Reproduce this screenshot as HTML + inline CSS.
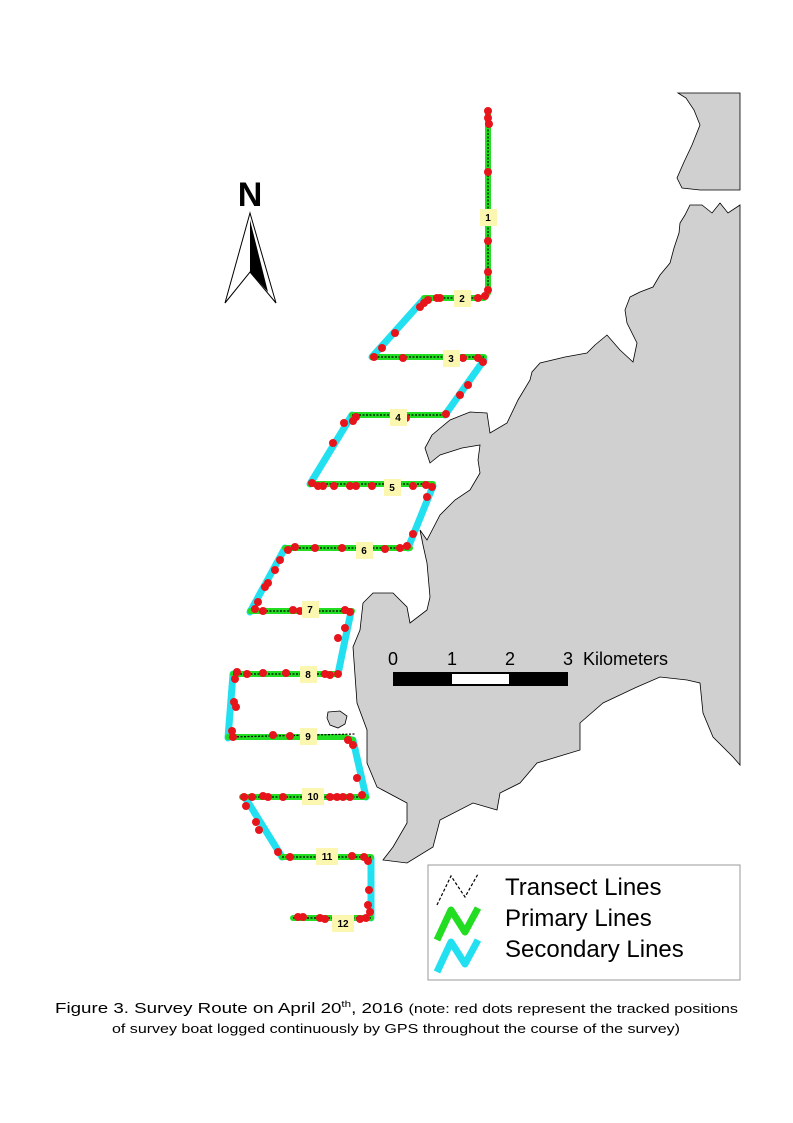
<!DOCTYPE html>
<html><head><meta charset="utf-8"><style>
html,body{margin:0;padding:0;background:#fff;}
svg{display:block;font-family:"Liberation Sans",Arial,sans-serif;}
</style></head><body>
<svg width="793" height="1123" viewBox="0 0 793 1123" xmlns="http://www.w3.org/2000/svg">
<rect width="793" height="1123" fill="#fff"/>
<g fill="#d0d0d0" stroke="#000" stroke-width="0.8">
<polygon points="678,93 740,93 740,190 700,190 682,188 677,178 684,162 692,145 700,125 694,110 686,98"/>
<polygon points="740,205 728,213 720,203 712,213 702,205 690,205 685,215 680,223 679,233 674,248 670,263 660,275 653,287 640,292 630,297 625,310 627,323 637,343 633,362 620,350 607,335 595,345 587,353 565,357 540,363 532,372 530,380 518,400 507,423 490,433 487,413 470,412 450,420 432,435 425,448 430,463 440,455 462,448 480,445 478,460 480,473 470,490 455,500 440,515 427,540 420,530 423,545 427,563 430,597 427,610 410,623 407,607 393,593 373,593 363,603 360,630 353,647 357,703 367,730 367,763 377,787 407,803 407,823 393,847 383,860 407,863 433,847 440,820 473,803 497,810 500,793 520,783 537,763 580,750 580,723 603,703 637,687 660,677 687,680 700,683 703,713 713,737 733,757 740,765"/>
<polygon points="328,712 340,711 347,716 345,724 338,728 330,725 327,718"/>
</g>
<g fill="none" stroke="#22e0f0" stroke-width="7" stroke-linecap="round" stroke-linejoin="round">
<polyline points="424,299 372,357"/>
<polyline points="484,360 445,415"/>
<polyline points="352,415 310,484"/>
<polyline points="433,486 408,548"/>
<polyline points="285,548 250,612"/>
<polyline points="351,612 345,640 338,674"/>
<polyline points="233,674 228,738"/>
<polyline points="353,740 366,797"/>
<polyline points="246,799 282,857"/>
<polyline points="371,858 371,918"/>
</g>
<g fill="none" stroke="#22dd22" stroke-width="6" stroke-linecap="round" stroke-linejoin="round">
<polyline points="488,112 488,293 484,298 424,298"/>
<polyline points="372,357 484,357"/>
<polyline points="352,415 445,415"/>
<polyline points="310,484 433,484"/>
<polyline points="285,548 410,548"/>
<polyline points="250,611 352,611"/>
<polyline points="233,674 338,674"/>
<polyline points="228,737 345,737 353,740"/>
<polyline points="242,797 366,797"/>
<polyline points="282,857 371,857"/>
<polyline points="293,918 371,918"/>
</g>
<g fill="none" stroke="#000" stroke-width="1.2" stroke-dasharray="2,1.5">
<line x1="488" y1="112" x2="488" y2="295"/><line x1="426" y1="298" x2="488" y2="298"/>
<line x1="374" y1="357" x2="484" y2="357"/><line x1="352" y1="415" x2="445" y2="415"/>
<line x1="312" y1="484" x2="433" y2="484"/><line x1="285" y1="548" x2="410" y2="548"/>
<line x1="252" y1="611" x2="352" y2="611"/><line x1="233" y1="674" x2="338" y2="674"/>
<line x1="230" y1="737" x2="355" y2="734"/><line x1="244" y1="797" x2="366" y2="797"/>
<line x1="282" y1="857" x2="371" y2="857"/><line x1="293" y1="918" x2="371" y2="918"/>
</g>
<g fill="#e8141c">
<circle cx="488" cy="111" r="4"/><circle cx="488" cy="118" r="4"/><circle cx="489" cy="124" r="4"/><circle cx="488" cy="172" r="4"/><circle cx="488" cy="241" r="4"/><circle cx="488" cy="272" r="4"/><circle cx="488" cy="290" r="4"/><circle cx="485" cy="296" r="4"/><circle cx="478" cy="298" r="4"/>
<circle cx="440" cy="298" r="4"/><circle cx="437" cy="298" r="4"/><circle cx="428" cy="300" r="4"/><circle cx="424" cy="303" r="4"/><circle cx="420" cy="307" r="4"/><circle cx="395" cy="333" r="4"/><circle cx="382" cy="348" r="4"/>
<circle cx="374" cy="357" r="4"/><circle cx="403" cy="358" r="4"/><circle cx="463" cy="358" r="4"/><circle cx="478" cy="358" r="4"/><circle cx="483" cy="362" r="4"/><circle cx="468" cy="385" r="4"/><circle cx="460" cy="395" r="4"/>
<circle cx="446" cy="414" r="4"/><circle cx="406" cy="418" r="4"/><circle cx="356" cy="417" r="4"/><circle cx="353" cy="421" r="4"/><circle cx="344" cy="423" r="4"/><circle cx="333" cy="443" r="4"/>
<circle cx="312" cy="483" r="4"/><circle cx="318" cy="486" r="4"/><circle cx="323" cy="486" r="4"/><circle cx="334" cy="486" r="4"/><circle cx="350" cy="486" r="4"/><circle cx="356" cy="486" r="4"/><circle cx="372" cy="486" r="4"/><circle cx="413" cy="486" r="4"/><circle cx="426" cy="485" r="4"/><circle cx="432" cy="487" r="4"/><circle cx="427" cy="497" r="4"/><circle cx="413" cy="534" r="4"/>
<circle cx="407" cy="546" r="4"/><circle cx="400" cy="548" r="4"/><circle cx="385" cy="549" r="4"/><circle cx="342" cy="548" r="4"/><circle cx="315" cy="548" r="4"/><circle cx="295" cy="547" r="4"/><circle cx="288" cy="550" r="4"/><circle cx="280" cy="560" r="4"/><circle cx="275" cy="570" r="4"/><circle cx="268" cy="583" r="4"/><circle cx="265" cy="587" r="4"/>
<circle cx="258" cy="602" r="4"/><circle cx="255" cy="609" r="4"/><circle cx="263" cy="611" r="4"/><circle cx="293" cy="610" r="4"/><circle cx="300" cy="611" r="4"/><circle cx="345" cy="610" r="4"/><circle cx="350" cy="612" r="4"/><circle cx="345" cy="628" r="4"/><circle cx="338" cy="638" r="4"/>
<circle cx="237" cy="672" r="4"/><circle cx="235" cy="679" r="4"/><circle cx="247" cy="674" r="4"/><circle cx="263" cy="673" r="4"/><circle cx="286" cy="673" r="4"/><circle cx="325" cy="674" r="4"/><circle cx="330" cy="675" r="4"/><circle cx="338" cy="674" r="4"/><circle cx="234" cy="702" r="4"/><circle cx="236" cy="707" r="4"/>
<circle cx="232" cy="731" r="4"/><circle cx="233" cy="737" r="4"/><circle cx="273" cy="735" r="4"/><circle cx="290" cy="736" r="4"/><circle cx="348" cy="740" r="4"/><circle cx="353" cy="745" r="4"/><circle cx="357" cy="778" r="4"/>
<circle cx="244" cy="797" r="4"/><circle cx="252" cy="797" r="4"/><circle cx="263" cy="796" r="4"/><circle cx="268" cy="797" r="4"/><circle cx="283" cy="797" r="4"/><circle cx="330" cy="797" r="4"/><circle cx="337" cy="797" r="4"/><circle cx="343" cy="797" r="4"/><circle cx="350" cy="797" r="4"/><circle cx="362" cy="795" r="4"/><circle cx="246" cy="806" r="4"/><circle cx="256" cy="822" r="4"/><circle cx="259" cy="830" r="4"/>
<circle cx="278" cy="852" r="4"/><circle cx="290" cy="857" r="4"/><circle cx="352" cy="856" r="4"/><circle cx="364" cy="857" r="4"/><circle cx="368" cy="861" r="4"/><circle cx="369" cy="890" r="4"/><circle cx="368" cy="905" r="4"/><circle cx="370" cy="912" r="4"/><circle cx="366" cy="918" r="4"/><circle cx="360" cy="919" r="4"/>
<circle cx="298" cy="917" r="4"/><circle cx="303" cy="917" r="4"/><circle cx="320" cy="918" r="4"/><circle cx="325" cy="919" r="4"/>
</g>
<g font-size="10" font-weight="bold" text-anchor="middle">
<g fill="#fbf7b0">
<rect x="480" y="209" width="17" height="17"/><rect x="454" y="290" width="17" height="17"/><rect x="443" y="350" width="17" height="17"/><rect x="390" y="409" width="17" height="17"/><rect x="384" y="479" width="17" height="17"/><rect x="356" y="542" width="17" height="17"/><rect x="302" y="601" width="17" height="17"/><rect x="300" y="666" width="17" height="17"/><rect x="300" y="728" width="17" height="17"/><rect x="302" y="788" width="22" height="17"/><rect x="316" y="848" width="22" height="17"/><rect x="332" y="915" width="22" height="17"/>
</g>
<text x="488" y="221">1</text><text x="462" y="302">2</text><text x="451" y="362">3</text><text x="398" y="421">4</text><text x="392" y="491">5</text><text x="364" y="554">6</text><text x="310" y="613">7</text><text x="308" y="678">8</text><text x="308" y="740">9</text><text x="313" y="800">10</text><text x="327" y="860">11</text><text x="343" y="927">12</text>
</g>
<text x="250" y="206" font-size="34" font-weight="bold" text-anchor="middle">N</text>
<polygon points="250,213 276,303 250,272 225,303" fill="#fff" stroke="#000" stroke-width="1"/>
<polygon points="250,220 250,272 268,292" fill="#000"/>
<g font-size="18">
<text x="393" y="665" text-anchor="middle">0</text><text x="452" y="665" text-anchor="middle">1</text><text x="510" y="665" text-anchor="middle">2</text><text x="568" y="665" text-anchor="middle">3</text><text x="583" y="665">Kilometers</text>
</g>
<rect x="393" y="672" width="175" height="14" fill="#000"/>
<rect x="452" y="674" width="57" height="10" fill="#fff"/>
<rect x="428" y="865" width="312" height="115" fill="#fff" stroke="#999" stroke-width="1"/>
<polyline points="437,905 451,876 465,897 478,874" fill="none" stroke="#000" stroke-width="1.2" stroke-dasharray="3,2"/>
<polyline points="437,940 451,910 465,932 478,908" fill="none" stroke="#22dd22" stroke-width="7" stroke-linejoin="round"/>
<polyline points="437,972 451,942 465,964 478,940" fill="none" stroke="#22e0f0" stroke-width="7" stroke-linejoin="round"/>
<g font-size="24"><text x="505" y="895">Transect Lines</text><text x="505" y="926">Primary Lines</text><text x="505" y="957">Secondary Lines</text></g>
<text x="55" y="1013" font-size="14.5" textLength="683" lengthAdjust="spacingAndGlyphs">Figure 3.  Survey Route on April 20<tspan font-size="9" dy="-6">th</tspan><tspan dy="6">, 2016 </tspan><tspan font-size="12.5">(note: red dots represent the tracked positions</tspan></text>
<text x="112" y="1033" font-size="12.5" textLength="568" lengthAdjust="spacingAndGlyphs">of survey boat logged continuously by GPS throughout the course of the survey)</text>
</svg>
</body></html>
